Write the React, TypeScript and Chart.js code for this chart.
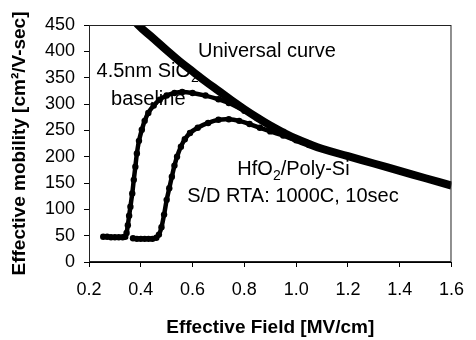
import React, { useEffect, useRef } from "react";
import { Chart, registerables } from "chart.js";

Chart.register(...registerables);

// Effective field [MV/cm] and effective mobility [cm²/V-sec]
const universalField = [0.36, 0.39, 0.45, 0.5, 0.55, 0.6, 0.65, 0.7, 0.75, 0.8, 0.85, 0.9, 0.95, 1.0, 1.05, 1.1, 1.2, 1.3, 1.4, 1.5, 1.6];
const universalMobility = [470, 450, 424, 402, 381, 362, 343, 325, 307, 290, 274, 259, 246, 234, 224, 215, 201, 187, 173, 159, 145];

const sio2Field = [0.255, 0.27, 0.285, 0.3, 0.315, 0.33, 0.34, 0.345, 0.35, 0.355, 0.36, 0.367, 0.373, 0.379, 0.385, 0.393, 0.404, 0.415, 0.429, 0.45, 0.473, 0.5, 0.53, 0.56, 0.6, 0.65, 0.7, 0.74, 0.8, 0.85, 0.9, 0.95, 1.0, 1.05, 1.1];
const sio2Mobility = [48, 48, 47, 47, 47, 47, 48, 55, 70, 88, 105, 130, 156, 181, 206, 230, 251, 268, 283, 297, 308, 316, 321, 323, 321, 316, 309, 302, 287, 273, 258, 245, 233, 224, 215];

const hfo2Field = [0.37, 0.385, 0.4, 0.415, 0.43, 0.445, 0.46, 0.47, 0.48, 0.49, 0.5, 0.51, 0.52, 0.53, 0.54, 0.555, 0.57, 0.59, 0.62, 0.66, 0.7, 0.74, 0.78, 0.82, 0.86, 0.9, 0.95, 1.0, 1.05];
const hfo2Mobility = [45, 44, 44, 44, 44, 44, 46, 52, 66, 90, 118, 140, 162, 183, 200, 219, 233, 245, 255, 264, 270, 271, 268, 262, 255, 248, 240, 231, 222];

const xTicks = [0.2, 0.4, 0.6, 0.8, 1.0, 1.2, 1.4, 1.6];

const FONT = "'Liberation Sans', Arial, Helvetica, sans-serif";

type Label = { parts: { text: string; sub?: boolean }[]; x: number; y: number; align: CanvasTextAlign };

// Annotation texts anchored in data coordinates
const labels: Label[] = [
  { parts: [{ text: "Universal curve" }], x: 0.887, y: 399, align: "center" },
  { parts: [{ text: "4.5nm SiO" }, { text: "2", sub: true }], x: 0.229, y: 361, align: "left" },
  { parts: [{ text: "baseline" }], x: 0.285, y: 308, align: "left" },
  { parts: [{ text: "HfO" }, { text: "2", sub: true }, { text: "/Poly-Si" }], x: 0.773, y: 175, align: "left" },
  { parts: [{ text: "S/D RTA: 1000C, 10sec" }], x: 0.579, y: 124, align: "left" },
];

const pairs = (xs: number[], ys: number[]) => xs.map((x, i) => ({ x, y: ys[i] }));

const annotationPlugin = {
  id: "annotations",
  beforeDatasetsDraw(chart: any) {
    const { ctx, scales } = chart;
    ctx.save();
    ctx.fillStyle = "#000";
    ctx.textBaseline = "middle";
    for (const l of labels) {
      const big = `20px ${FONT}`;
      const small = `14px ${FONT}`;
      let total = 0;
      for (const p of l.parts) {
        ctx.font = p.sub ? small : big;
        total += ctx.measureText(p.text).width;
      }
      let px = scales.x.getPixelForValue(l.x);
      const py = scales.y.getPixelForValue(l.y);
      if (l.align === "center") px -= total / 2;
      ctx.textAlign = "left";
      for (const p of l.parts) {
        ctx.font = p.sub ? small : big;
        ctx.fillText(p.text, px, p.sub ? py + 6 : py);
        px += ctx.measureText(p.text).width;
      }
    }
    ctx.restore();
  },
  afterDraw(chart: any) {
    const { ctx, chartArea } = chart;
    ctx.save();
    ctx.strokeStyle = "#222";
    ctx.lineWidth = 1;
    ctx.strokeRect(chartArea.left + 0.5, chartArea.top + 0.5, chartArea.right - chartArea.left - 1, chartArea.bottom - chartArea.top - 1);
    ctx.restore();
  },
};

export default function App() {
  const ref = useRef<HTMLCanvasElement | null>(null);

  useEffect(() => {
    document.body.style.margin = "0";
    const canvas = ref.current;
    if (!canvas) return;
    const chart = new Chart(canvas, {
      type: "scatter",
      data: {
        datasets: [
          {
            label: "Universal curve",
            data: pairs(universalField, universalMobility),
            showLine: true,
            borderColor: "#000",
            borderWidth: 8,
            pointRadius: 0,
            tension: 0.4,
          },
          {
            label: "4.5nm SiO2 baseline",
            data: pairs(sio2Field, sio2Mobility),
            showLine: true,
            borderColor: "#000",
            backgroundColor: "#000",
            borderWidth: 4.5,
            pointRadius: 3.2,
            pointBorderWidth: 0,
            tension: 0.3,
          },
          {
            label: "HfO2/Poly-Si",
            data: pairs(hfo2Field, hfo2Mobility),
            showLine: true,
            borderColor: "#000",
            backgroundColor: "#000",
            borderWidth: 4.5,
            pointRadius: 3.2,
            pointBorderWidth: 0,
            tension: 0.3,
          },
        ],
      },
      options: {
        animation: false,
        responsive: false,
        layout: { padding: { top: 25, right: 14, left: 0, bottom: 0 } },
        plugins: { legend: { display: false }, tooltip: { enabled: false } },
        scales: {
          x: {
            type: "linear",
            min: 0.2,
            max: 1.6,
            afterFit: (s: any) => {
              s.height = 78;
            },
            afterBuildTicks: (s: any) => {
              s.ticks = xTicks.map((v) => ({ value: v }));
            },
            ticks: {
              color: "#000",
              font: { family: FONT, size: 18 },
              padding: 12,
              callback: (v: any) => Number(v).toFixed(1),
            },
            grid: { drawOnChartArea: false, drawTicks: true, tickLength: 5, color: "#000" },
            border: { display: true, color: "#000", width: 1 },
            title: {
              display: true,
              text: "Effective Field [MV/cm]",
              color: "#000",
              font: { family: FONT, size: 19, weight: "bold" },
              padding: { top: 0, bottom: 1 },
            },
          },
          y: {
            min: 0,
            max: 450,
            afterFit: (s: any) => {
              s.width = 89;
            },
            ticks: {
              stepSize: 50,
              color: "#000",
              font: { family: FONT, size: 18 },
              padding: 9,
            },
            grid: { drawOnChartArea: false, drawTicks: true, tickLength: 5, color: "#000" },
            border: { display: true, color: "#000", width: 1 },
            title: {
              display: true,
              text: "Effective mobility [cm²/V-sec]",
              color: "#000",
              font: { family: FONT, size: 19, weight: "bold" },
              padding: { top: 8, bottom: 0 },
            },
          },
        },
      },
      plugins: [annotationPlugin],
    });
    return () => chart.destroy();
  }, []);

  return (
    <div style={{ width: 476, height: 340 }}>
      <canvas ref={ref} width={476} height={340} style={{ display: "block" }} />
    </div>
  );
}
